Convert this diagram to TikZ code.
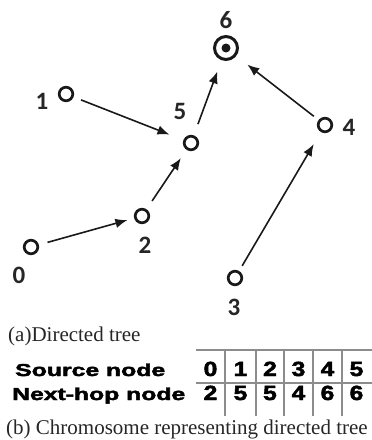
\documentclass[tikz,border=0pt]{standalone}
\usepackage{fontspec}
\setmainfont{Liberation Serif}
\newfontfamily\labelfont{Carlito}
\newfontfamily\tablefont{Liberation Sans}[BoldFeatures={FakeBold=2.2}]
\usetikzlibrary{arrows.meta}

\begin{document}
\begin{tikzpicture}[x=1pt,y=-1pt,
  vertex/.style={circle, draw=black!90, line width=2.7pt, minimum size=13.6pt, inner sep=0pt},
  sink/.style={circle, draw=black!90, line width=3pt, minimum size=23pt, inner sep=0pt},
  num/.style={font=\labelfont\bfseries\fontsize{25}{25}\selectfont, text=black!85, inner sep=0pt},
  link/.style={-{Latex[length=12pt,width=9.5pt]}, line width=1.6pt, black!90},
  gene/.style={font=\tablefont\bfseries\fontsize{20.5}{20.5}\selectfont, anchor=base, inner sep=0pt, xscale=1.2},
  rowhead/.style={anchor=base west, inner sep=0pt},
  caption/.style={font=\fontsize{21}{21}\selectfont, anchor=base west, inner sep=0pt, text=black!85},
  grid/.style={draw=black!45, line width=1.3pt}
]
\useasboundingbox (0,0) rectangle (372,440);
\clip (0,0) rectangle (372,440);

% vertices of the directed tree
\node[sink]   (n6) at (226,48) {};
\fill[black!90] (n6.center) circle (4.5pt);
\node[vertex] (n1) at (66,94) {};
\node[vertex] (n5) at (191,143) {};
\node[vertex] (n4) at (325,125) {};
\node[vertex] (n2) at (142,216) {};
\node[vertex] (n0) at (31,247) {};
\node[vertex] (n3) at (235,278) {};

% vertex labels
\node[num] (l6) at (226,20) {6};
\node[num] (l1) at (42,101) {1};
\node[num] (l5) at (180,111) {5};
\node[num] (l4) at (349,127) {4};
\node[num] (l2) at (145,245) {2};
\node[num] (l0) at (19,275) {0};
\node[num] (l3) at (234,307) {3};

% edges towards the sink
\draw[link, shorten <=8pt, shorten >=15pt] (n1) -- (n5);
\draw[link, shorten <=9pt, shorten >=7pt]  (n0) -- (n2);
\draw[link, shorten <=10pt, shorten >=10pt] (n2) -- (n5);
\draw[link, shorten <=12pt, shorten >=12pt] (n5) -- (n6);
\draw[link, shorten <=6pt, shorten >=14pt] (n4) -- (n6);
\draw[link, shorten <=6pt, shorten >=14pt] (n3) -- (n4);

% captions
\node[caption] (capa) at (8,341) {(a)Directed tree};
\node[caption] (capb) at (6,434) {(b) Chromosome representing directed tree};

% chromosome table
\draw[grid, line width=2pt] (196,350) -- (372,350);
\draw[grid] (196,383) -- (372,383);
\foreach \x in {225,256,284,313,342} \draw[grid] (\x,350) -- (\x,416);

\node[rowhead] (src) at (15,376) {\resizebox{150pt}{12.5pt}{\tablefont\bfseries Source node}};
\node[rowhead] (hop) at (12,400) {\resizebox{173pt}{12.5pt}{\tablefont\bfseries Next-hop node}};

\foreach \d/\x in {0/210.5,1/240.5,2/270,3/298.5,4/327.5,5/356.5}
  \node[gene] (s\d) at (\x,376) {\d};
\foreach \d/\x/\h in {0/210.5/2,1/240.5/5,2/270/5,3/298.5/4,4/327.5/6,5/356.5/6}
  \node[gene] (h\d) at (\x,400) {\h};
\end{tikzpicture}
\end{document}
